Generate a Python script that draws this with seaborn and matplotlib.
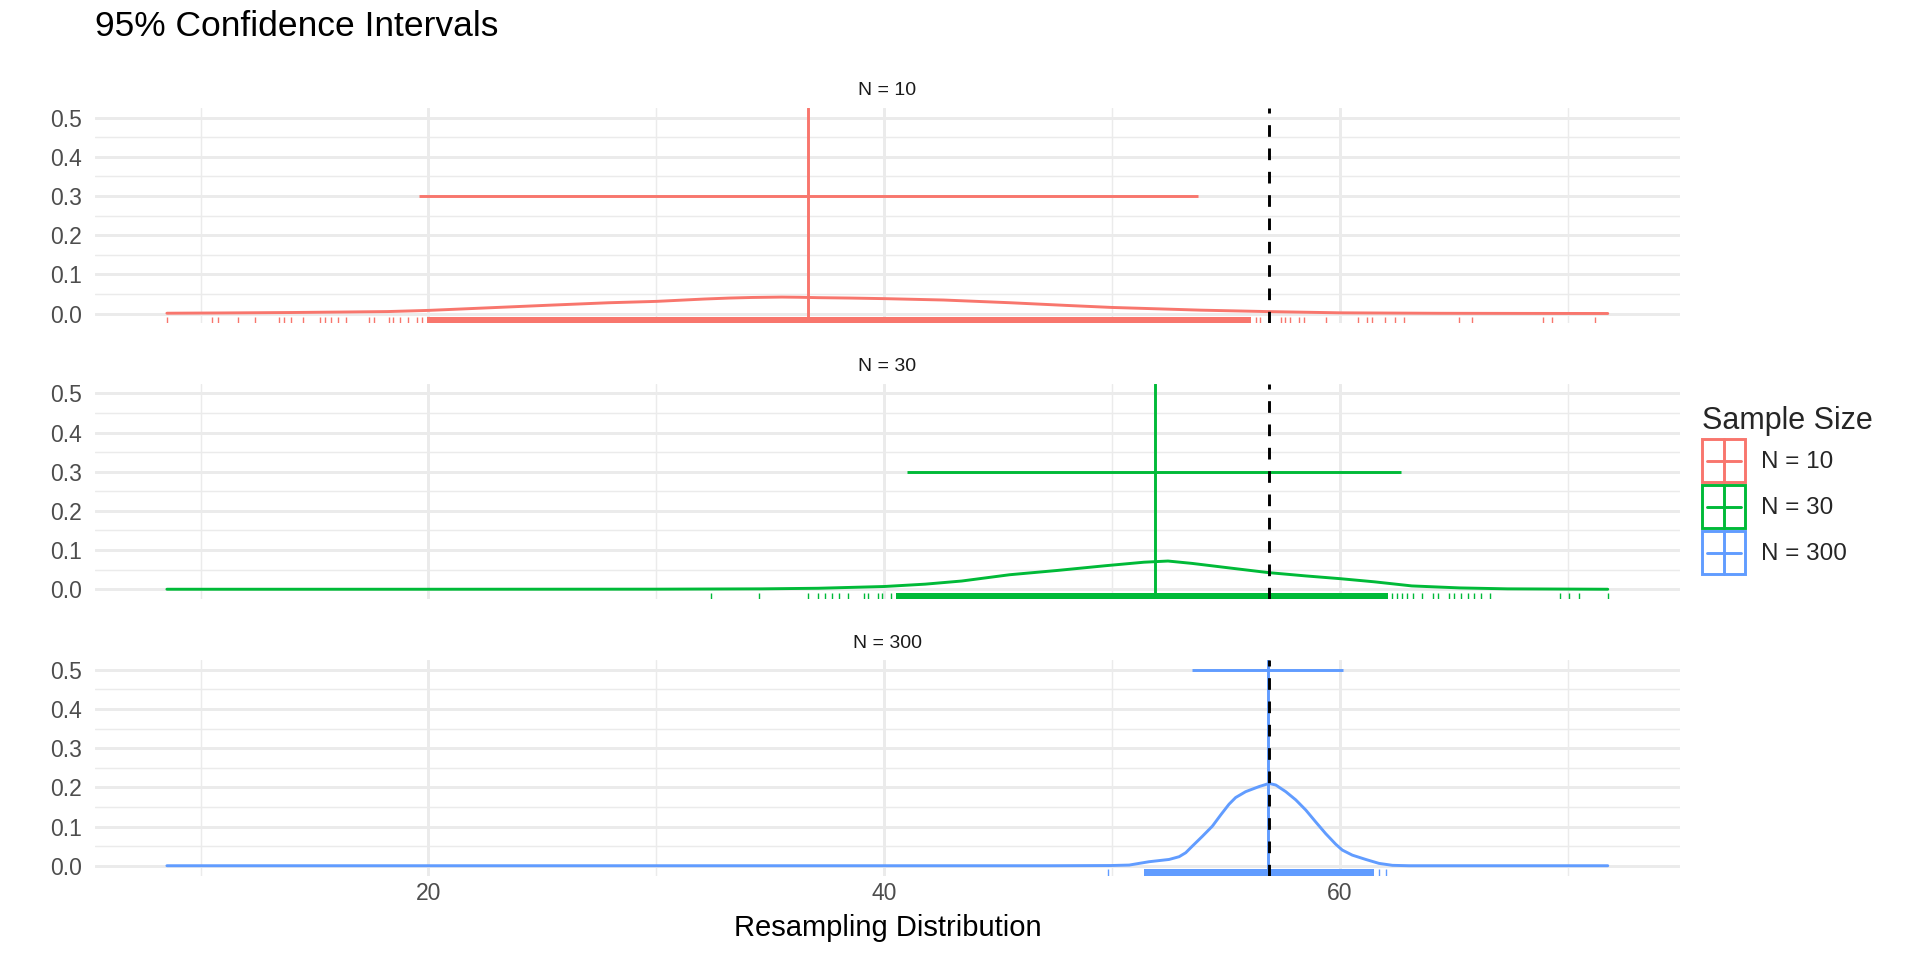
import matplotlib
matplotlib.use("Agg")
import matplotlib.pyplot as plt
import seaborn as sns
from matplotlib.legend_handler import HandlerBase
from matplotlib.lines import Line2D
from matplotlib.patches import Rectangle

# values
groups = ["N = 10", "N = 30", "N = 300"]
colors = ["#F8766D", "#00BA38", "#619CFF"]
true_mean = 56.87
means = [36.67, 51.87, 56.82]
ci_low = [19.6, 40.98, 53.52]
ci_high = [53.76, 62.68, 60.13]
ci_y = [0.3, 0.3, 0.5]

dens10_x = [8.52, 11.0, 14.0, 16.0, 18.2, 20.0, 22.4, 25.4, 27.9, 30.0, 32.1, 33.2, 34.2,
            35.5, 36.3, 37.1, 38.5, 40.0, 42.6, 45.5, 48.0, 50.0, 52.0, 53.9, 56.8, 60.0,
            64.4, 68.0, 71.75]
dens10_y = [0.0008, 0.0015, 0.0026, 0.0037, 0.005, 0.008, 0.014, 0.0215, 0.0275, 0.031,
            0.037, 0.0395, 0.041, 0.042, 0.0415, 0.0405, 0.0395, 0.038, 0.0345, 0.0276,
            0.0207, 0.0155, 0.012, 0.0086, 0.005, 0.0018, 0.0006, 0.0003, 0.0001]

dens30_x = [8.52, 20.0, 30.0, 34.6, 37.1, 40.0, 41.8, 43.4, 45.5, 47.6, 49.7, 51.4,
            52.45, 53.5, 55.2, 56.85, 58.5, 60.0, 61.5, 63.15, 65.25, 67.35, 71.75]
dens30_y = [0.0, 0.0, 0.0002, 0.001, 0.0025, 0.007, 0.013, 0.021, 0.037, 0.048, 0.06,
            0.069, 0.072, 0.066, 0.054, 0.0425, 0.034, 0.027, 0.019, 0.0085, 0.0034,
            0.001, 0.0]

dens300_x = [8.52, 30.0, 47.24, 49.94, 50.75, 51.62, 52.5, 52.94, 53.23, 53.52, 53.96,
             54.4, 54.77, 55.13, 55.42, 55.86, 56.45, 56.89, 57.18, 57.62, 58.06, 58.5,
             58.93, 59.37, 59.81, 60.1, 60.54, 61.13, 61.71, 62.3, 63.03, 71.75]
dens300_y = [0.0, 0.0, 0.0, 0.0005, 0.0017, 0.0102, 0.016, 0.023, 0.0332, 0.05, 0.075,
             0.101, 0.13, 0.157, 0.174, 0.189, 0.202, 0.21, 0.206, 0.189, 0.168, 0.142,
             0.112, 0.082, 0.055, 0.04, 0.027, 0.016, 0.006, 0.001, 0.0, 0.0]

# single rug ticks, and stretches where the rug ticks merge into a solid band
rug10 = [8.52, 10.49, 10.78, 11.62, 12.38, 13.43, 13.64, 13.97, 14.48, 15.23, 15.44,
         15.74, 16.03, 16.37, 17.41, 17.62, 18.25, 18.46, 18.76, 19.09, 19.51, 19.72,
         56.3, 56.5, 57.4, 57.6, 57.8, 58.2, 58.4, 59.4, 60.8, 61.2, 61.4, 61.96, 62.4,
         62.8, 65.2, 65.8, 68.9, 69.3, 71.2]
band10 = [(19.93, 56.1)]
rug30 = [32.39, 34.49, 36.67, 37.1, 37.4, 37.7, 38.0, 38.4, 39.1, 39.3, 39.74, 39.9,
         40.28, 62.3, 62.5, 62.7, 62.95, 63.2, 63.6, 64.1, 64.3, 64.8, 65.0, 65.3, 65.6,
         65.9, 66.2, 66.6, 69.65, 70.07, 70.5, 71.75]
band30 = [(40.5, 62.1)]
rug300 = [49.84, 61.7, 62.0]
band300 = [(51.4, 61.5)]

dens_x = [dens10_x, dens30_x, dens300_x]
dens_y = [dens10_y, dens30_y, dens300_y]
rugs = [rug10, rug30, rug300]
bands = [band10, band30, band300]

LW = 2.1
GRID = "#EBEBEB"


class BoxCross(HandlerBase):
    # ggplot style key: outlined square with a cross through it
    def create_artists(self, legend, orig_handle, xdescent, ydescent,
                       width, height, fontsize, trans):
        c = orig_handle.get_color()
        x0, y0 = -xdescent, -ydescent
        box = Rectangle((x0, y0), width, height, fill=False, edgecolor=c,
                        lw=LW, transform=trans)
        v = Line2D([x0 + width / 2] * 2, [y0, y0 + height], color=c, lw=LW, transform=trans)
        h = Line2D([x0 + width * 0.1, x0 + width * 0.9], [y0 + height / 2] * 2,
                   color=c, lw=LW, transform=trans)
        return [box, v, h]


def main():
    sns.set_theme(style="white")
    plt.rcParams["font.family"] = ["Liberation Sans", "DejaVu Sans"]

    fig = plt.figure(figsize=(19.2, 9.6), dpi=100)

    lo = min(dens10_x)
    hi = max(dens30_x)
    pad = (hi - lo) * 0.05
    xlim = (lo - pad, hi + pad)

    left, width, height = 0.0494, 0.8255, 0.2245
    bottoms = [0.6632, 0.3760, 0.0880]

    for i, g in enumerate(groups):
        ax = fig.add_axes([left, bottoms[i], width, height])
        c = colors[i]
        ax.set_axisbelow(True)

        sns.lineplot(x=dens_x[i], y=dens_y[i], ax=ax, color=c, lw=LW,
                     estimator=None, sort=False)
        sns.rugplot(x=rugs[i], height=0.03, ax=ax, color=c, lw=3,
                    expand_margins=False)
        for a, b in bands[i]:
            ax.axvspan(a, b, ymin=0, ymax=0.03, color=c, lw=0)
        ax.axvline(means[i], color=c, lw=LW)
        ax.hlines(ci_y[i], ci_low[i], ci_high[i], color=c, lw=LW)
        ax.axvline(true_mean, color="black", lw=LW, dashes=(4, 4))

        ax.set_xlim(xlim)
        ax.set_ylim(-0.025, 0.525)
        ax.set_xticks([20, 40, 60])
        ax.set_xticks([10, 30, 50, 70], minor=True)
        ax.set_yticks([0.0, 0.1, 0.2, 0.3, 0.4, 0.5])
        ax.set_yticks([0.05, 0.15, 0.25, 0.35, 0.45], minor=True)
        ax.set_yticklabels(["0.0", "0.1", "0.2", "0.3", "0.4", "0.5"])
        ax.grid(which="major", color=GRID, lw=LW)
        ax.grid(which="minor", color=GRID, lw=LW / 2)
        for s in ax.spines.values():
            s.set_visible(False)
        ax.tick_params(which="both", length=0, labelsize=16.5, labelcolor="#4D4D4D")
        ax.tick_params(axis="y", pad=9)
        ax.tick_params(axis="x", pad=5)
        ax.set_ylabel("")
        if i < 2:
            ax.set_xticklabels([])
            ax.set_xlabel("")
        else:
            ax.set_xlabel("Resampling Distribution", fontsize=21, color="black", labelpad=6)
        ax.set_title(g, fontsize=14, color="#1A1A1A", pad=9)

    fig.text(0.0494, 1 - 27 / 960, "95% Confidence Intervals", fontsize=25.5,
             ha="left", va="center", color="black")

    handles = [Line2D([], [], color=c) for c in colors]
    fig.legend(handles, groups, handler_map={Line2D: BoxCross()},
               loc="upper left", bbox_to_anchor=(1676 / 1920, 1 - 380 / 960),
               frameon=False, title="Sample Size", title_fontsize=22, fontsize=17.5,
               handlelength=1.77, handleheight=2.35, handletextpad=0.66,
               labelspacing=0.12, borderpad=1.08, borderaxespad=0, alignment="left")

    fig.savefig("out.png", dpi=100)
    plt.close(fig)


if __name__ == "__main__":
    main()
